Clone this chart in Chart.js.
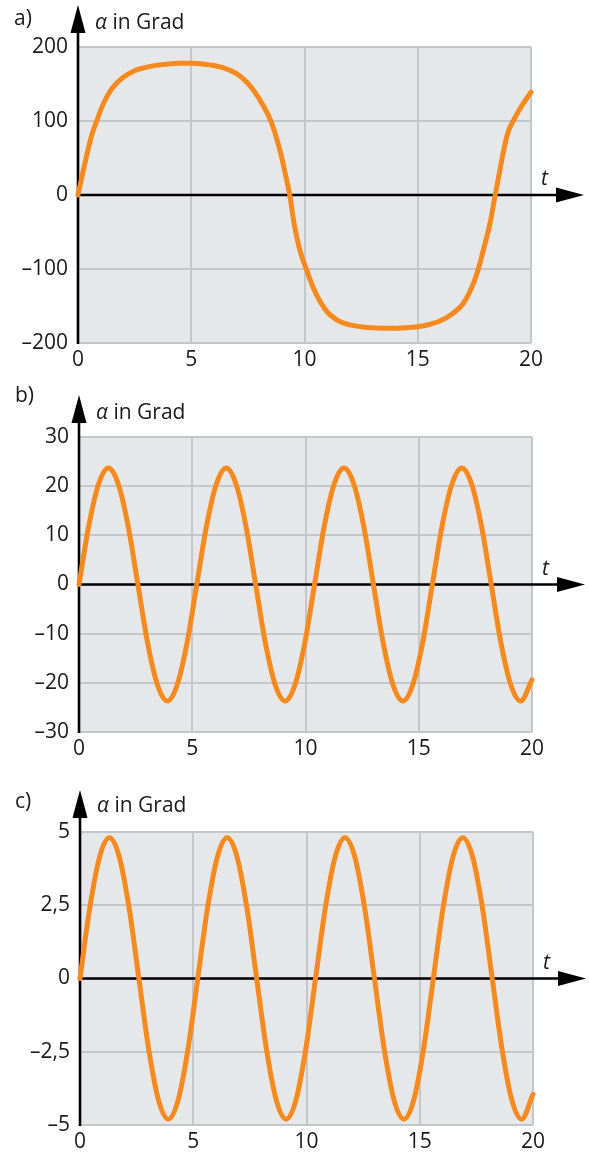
<!DOCTYPE html>
<html><head><meta charset="utf-8">
<script src="https://cdn.jsdelivr.net/npm/chart.js@4.4.1/dist/chart.umd.min.js"></script>
<style>
html,body{margin:0;padding:0;background:#fff;}
body{width:589px;height:1153px;position:relative;overflow:hidden;}
canvas{position:absolute;left:0;}
</style></head><body>
<canvas id="ca" width="589" height="380" style="top:0px"></canvas>
<canvas id="cb" width="589" height="385" style="top:380px"></canvas>
<canvas id="cc" width="589" height="388" style="top:765px"></canvas>
<script>
// ---- data ----
const tA = [0,0.3,0.6,0.85,1.1,1.5,2,2.5,3,3.5,4,4.5,5,5.5,6,6.5,7,7.5,8,8.5,8.9,9.2,9.35,9.55,9.8,10.1,10.5,11,11.5,12,12.5,13,13.5,14,14.5,15,15.5,16,16.5,17,17.5,17.9,18.2,18.4,18.6,18.8,19,19.3,19.6,20];
const alphaA = [0,42,80,102,122,144,159,168,172.5,175.5,177,178,178,177,175,171,164,151,130,101,62,22,0,-40,-75,-102,-133,-158,-170,-175.5,-178,-179.5,-180,-180,-179.5,-178,-175,-170,-161,-147,-116,-74,-37,-3,29,61,86,105,121,139];

const tB = [0,0.43,0.87,1.3,1.73,2.17,2.6,3.03,3.47,3.9,4.33,4.77,5.2,5.63,6.07,6.5,6.93,7.37,7.8,8.23,8.67,9.1,9.53,9.97,10.4,10.83,11.27,11.7,12.13,12.57,13,13.43,13.87,14.3,14.73,15.17,15.6,16.03,16.47,16.9,17.33,17.77,18.2,18.63,19.07,19.5,20];
const alphaB = [0,11.9,20.5,23.7,20.5,11.9,0,-11.9,-20.5,-23.7,-20.5,-11.9,
                0,11.9,20.5,23.7,20.5,11.9,0,-11.9,-20.5,-23.7,-20.5,-11.9,
                0,11.9,20.5,23.7,20.5,11.9,0,-11.9,-20.5,-23.7,-20.5,-11.9,
                0,11.9,20.5,23.7,20.5,11.9,0,-11.9,-20.5,-23.7,-19.4];

const tC = [0,0.43,0.87,1.3,1.73,2.17,2.6,3.03,3.47,3.9,4.33,4.77,5.2,5.63,6.07,6.5,6.93,7.37,7.8,8.23,8.67,9.1,9.53,9.97,10.4,10.83,11.27,11.7,12.13,12.57,13,13.43,13.87,14.3,14.73,15.17,15.6,16.03,16.47,16.9,17.33,17.77,18.2,18.63,19.07,19.5,20];
const alphaC = [0,2.4,4.16,4.8,4.16,2.4,0,-2.4,-4.16,-4.8,-4.16,-2.4,
                0,2.4,4.16,4.8,4.16,2.4,0,-2.4,-4.16,-4.8,-4.16,-2.4,
                0,2.4,4.16,4.8,4.16,2.4,0,-2.4,-4.16,-4.8,-4.16,-2.4,
                0,2.4,4.16,4.8,4.16,2.4,0,-2.4,-4.16,-4.8,-3.95];

const xTicks = [0,5,10,15,20];
const yTicksA = [-200,-100,0,100,200];
const yTicksB = [-30,-20,-10,0,10,20,30];
const yTicksC = [-5,-2.5,0,2.5,5];
const panelLabels = ['a)','b)','c)'];
const yTitleSym = 'α';
const yTitleRest = ' in Grad';
const xTitle = 't';

// ---- styling ----
const ORANGE = '#F68A1F';
const BG = '#E6E7E8';
const GRID = '#C5C6C8';
const TXT = '#1a1a1a';
const FAM = '"Open Sans", "Noto Sans", sans-serif';
const FS = 21;

function fmt(v){
  const s = String(Math.abs(v)).replace('.', ',');
  return (v < 0 ? '\u2013' : '') + s;
}

function makeChart(id, tArr, yArr, yTicks, label, geo, smooth){
  const canvas = document.getElementById(id);
  const H = canvas.height;
  const deco = {
    id: 'deco_' + id,
    beforeDraw(chart){
      const ctx = chart.ctx, a = chart.chartArea;
      ctx.save();
      ctx.fillStyle = BG;
      ctx.fillRect(a.left, a.top, a.right - a.left, a.bottom - a.top);
      ctx.restore();
    },
    beforeDatasetsDraw(chart){
      const ctx = chart.ctx, a = chart.chartArea;
      const x0 = chart.scales.x.getPixelForValue(0);
      const y0 = chart.scales.y.getPixelForValue(0);
      ctx.save();
      ctx.strokeStyle = '#000';
      ctx.lineWidth = 2.6;
      ctx.beginPath();
      ctx.moveTo(x0, a.bottom + 1);
      ctx.lineTo(x0, a.top - 20);
      ctx.stroke();
      ctx.lineWidth = 2.4;
      ctx.beginPath();
      ctx.moveTo(x0, y0);
      ctx.lineTo(a.right + 30, y0);
      ctx.stroke();
      ctx.fillStyle = '#000';
      ctx.beginPath();
      ctx.moveTo(x0, a.top - 42);
      ctx.lineTo(x0 - 7.5, a.top - 14);
      ctx.lineTo(x0 + 7.5, a.top - 14);
      ctx.closePath(); ctx.fill();
      ctx.beginPath();
      ctx.moveTo(a.right + 53, y0);
      ctx.lineTo(a.right + 25, y0 - 7.5);
      ctx.lineTo(a.right + 25, y0 + 7.5);
      ctx.closePath(); ctx.fill();
      ctx.restore();
    },
    afterDraw(chart){
      const ctx = chart.ctx, a = chart.chartArea;
      const x0 = chart.scales.x.getPixelForValue(0);
      const y0 = chart.scales.y.getPixelForValue(0);
      ctx.save();
      ctx.fillStyle = TXT;
      ctx.textBaseline = 'alphabetic';
      ctx.textAlign = 'left';
      ctx.font = FS + 'px ' + FAM;
      ctx.fillText(label, geo.labelX, geo.labelY);
      ctx.font = 'italic ' + FS + 'px ' + FAM;
      const tx = x0 + 17;
      ctx.fillText(yTitleSym, tx, geo.titleY);
      const w = ctx.measureText(yTitleSym).width;
      ctx.font = FS + 'px ' + FAM;
      ctx.fillText(yTitleRest, tx + w, geo.titleY);
      ctx.font = 'italic ' + FS + 'px ' + FAM;
      ctx.fillText(xTitle, a.right + 10, y0 - 10);
      ctx.restore();
    }
  };
  const tickFont = {family: FAM, size: FS};
  const ds = {
    data: tArr.map((t, i) => ({x: t, y: yArr[i]})),
    borderColor: ORANGE,
    borderWidth: 5,
    pointRadius: 0,
    borderCapStyle: 'round',
    borderJoinStyle: 'round',
    fill: false,
    clip: false
  };
  if (smooth === 'monotone') ds.cubicInterpolationMode = 'monotone';
  else ds.tension = 0.4;
  return new Chart(canvas, {
    type: 'line',
    data: {datasets: [ds]},
    options: {
      responsive: false,
      animation: false,
      events: [],
      layout: {padding: {left: 0, top: geo.top, right: 589 - geo.right, bottom: H - geo.bottom - 28}},
      plugins: {legend: {display: false}, tooltip: {enabled: false}},
      scales: {
        x: {
          type: 'linear', min: 0, max: 20,
          afterBuildTicks: ax => { ax.ticks = xTicks.map(v => ({value: v})); },
          afterFit: ax => { ax.height = 28; },
          grid: {color: GRID, lineWidth: 2, drawTicks: false},
          border: {display: false},
          ticks: {padding: 4, font: tickFont, color: TXT, maxRotation: 0, autoSkip: false}
        },
        y: {
          type: 'linear', min: yTicks[0], max: yTicks[yTicks.length - 1],
          afterBuildTicks: ax => { ax.ticks = yTicks.map(v => ({value: v})); },
          afterFit: ax => { ax.width = geo.left; },
          grid: {color: GRID, lineWidth: 2, drawTicks: false},
          border: {display: false},
          ticks: {padding: 10, font: tickFont, color: TXT, autoSkip: false, callback: v => fmt(v)}
        }
      }
    },
    plugins: [deco]
  });
}

makeChart('ca', tA, alphaA, yTicksA, panelLabels[0], {left: 78, top: 47, right: 531, bottom: 343, labelX: 14, labelY: 25, titleY: 29}, 'bezier');
makeChart('cb', tB, alphaB, yTicksB, panelLabels[1], {left: 79, top: 57, right: 532, bottom: 352, labelX: 15, labelY: 22, titleY: 39}, 'monotone');
makeChart('cc', tC, alphaC, yTicksC, panelLabels[2], {left: 80, top: 67, right: 533, bottom: 360, labelX: 15, labelY: 43, titleY: 47}, 'monotone');
</script>
</body></html>
